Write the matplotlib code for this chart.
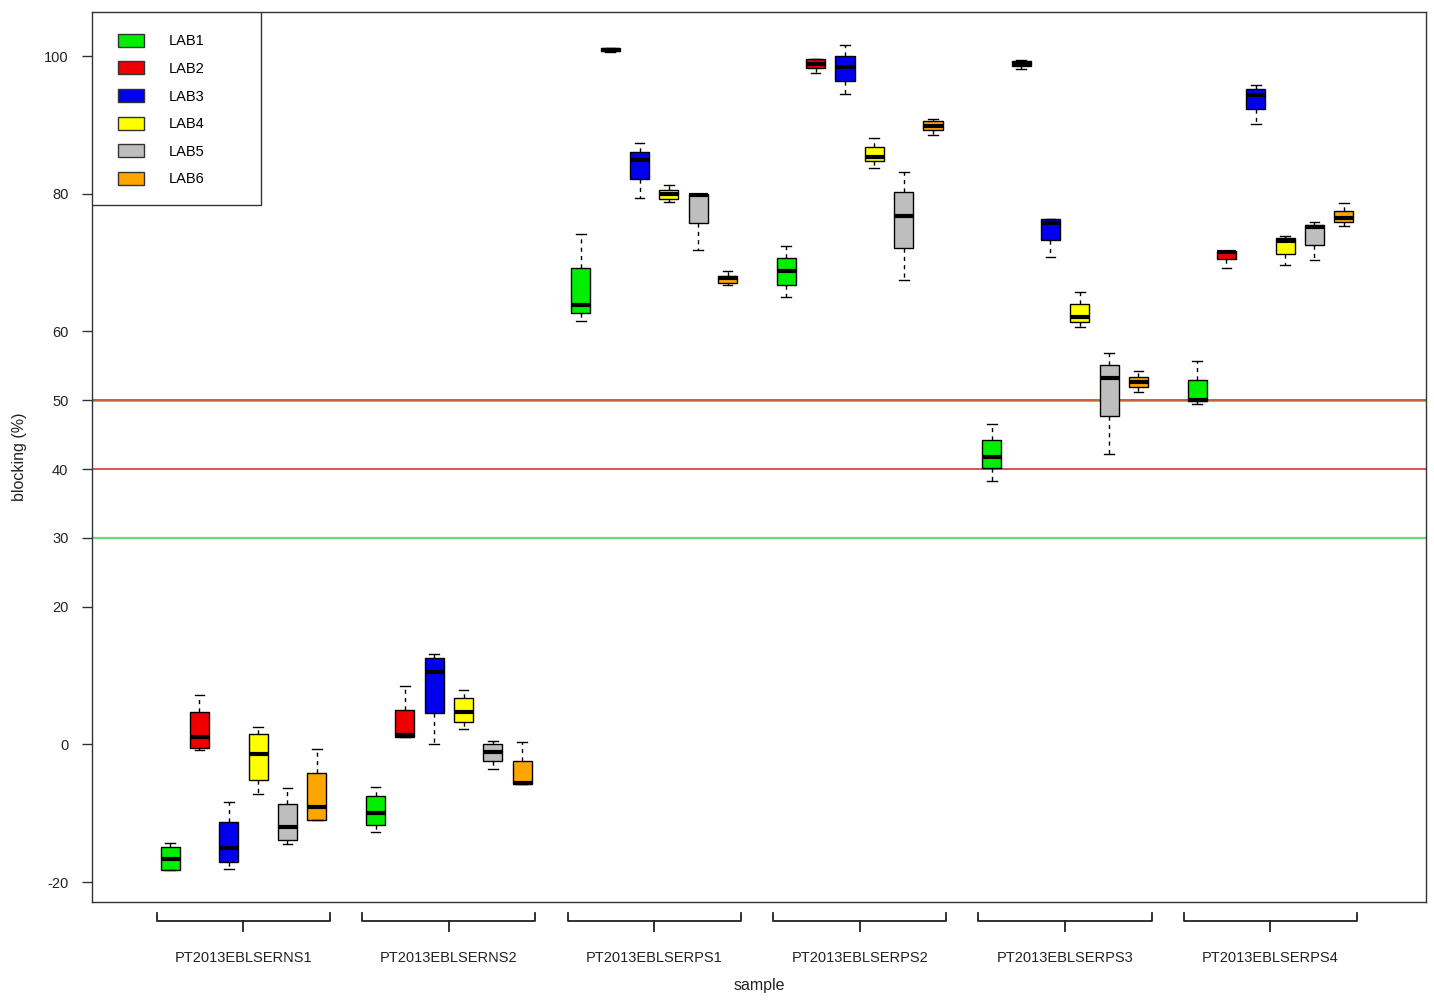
import matplotlib
matplotlib.use("Agg")
import matplotlib.pyplot as plt
import matplotlib.patches as mpatches
import matplotlib.transforms as mtransforms

plt.rcParams['font.family'] = ['Liberation Sans', 'DejaVu Sans']

samples = ["PT2013EBLSERNS1", "PT2013EBLSERNS2", "PT2013EBLSERPS1",
           "PT2013EBLSERPS2", "PT2013EBLSERPS3", "PT2013EBLSERPS4"]
labs = ["LAB1", "LAB2", "LAB3", "LAB4", "LAB5", "LAB6"]
lab_colors = ["#00ee00", "#ee0000", "#0000ee", "#ffff00", "#bebebe", "#ffa500"]

# per lab, per sample: [whisker low, Q1, median, Q3, whisker high]
LAB1 = [[-18.3, -18.2, -16.6, -14.9, -14.3],
        [-12.7, -11.7, -9.9, -7.5, -6.2],
        [61.5, 62.7, 63.8, 69.2, 74.2],
        [65.0, 66.7, 68.8, 70.6, 72.4],
        [38.2, 40.1, 41.8, 44.2, 46.6],
        [49.5, 49.9, 50.0, 52.9, 55.7]]
LAB2 = [[-0.8, -0.5, 1.0, 4.7, 7.2],
        [1.1, 1.1, 1.3, 5.0, 8.5],
        [100.6, 100.7, 100.9, 101.1, 101.2],
        [97.5, 98.3, 98.9, 99.5, 99.5],
        [98.1, 98.6, 98.9, 99.3, 99.4],
        [69.2, 70.5, 71.6, 71.7, 71.7]]
LAB3 = [[-18.1, -17.1, -15.1, -11.3, -8.4],
        [0.1, 4.5, 10.5, 12.6, 13.1],
        [79.4, 82.1, 84.9, 86.1, 87.4],
        [94.5, 96.4, 98.4, 100.0, 101.6],
        [70.8, 73.3, 75.8, 76.3, 76.3],
        [90.1, 92.3, 94.3, 95.2, 95.8]]
LAB4 = [[-7.2, -5.2, -1.4, 1.5, 2.5],
        [2.3, 3.2, 4.7, 6.7, 7.9],
        [78.8, 79.2, 80.0, 80.6, 81.3],
        [83.8, 84.7, 85.4, 86.8, 88.1],
        [60.7, 61.4, 62.1, 64.0, 65.7],
        [69.6, 71.3, 73.2, 73.5, 73.8]]
LAB5 = [[-14.5, -13.9, -12.0, -8.7, -6.4],
        [-3.6, -2.4, -1.1, 0.0, 0.5],
        [71.8, 75.8, 79.8, 80.0, 80.0],
        [67.5, 72.1, 76.8, 80.2, 83.2],
        [42.2, 47.7, 53.2, 55.1, 56.9],
        [70.4, 72.5, 75.1, 75.5, 75.9]]
LAB6 = [[-11.0, -11.0, -9.1, -4.1, -0.7],
        [-5.8, -5.8, -5.6, -2.4, 0.4],
        [66.7, 67.1, 67.7, 68.1, 68.8],
        [88.6, 89.3, 89.8, 90.5, 90.8],
        [51.2, 51.9, 52.7, 53.3, 54.2],
        [75.3, 75.9, 76.5, 77.5, 78.6]]
lab_data = [LAB1, LAB2, LAB3, LAB4, LAB5, LAB6]

yticks = [-20, 0, 20, 30, 40, 50, 60, 80, 100]

fig = plt.figure(figsize=(14.34, 10), dpi=100)
ax = fig.add_axes([0.0642, 0.098, 0.9302, 0.890])

n_lab = len(labs)
group_w = n_lab + 1
for li, (data, col) in enumerate(zip(lab_data, lab_colors)):
    stats = []
    pos = []
    for si, v in enumerate(data):
        stats.append(dict(whislo=v[0], q1=v[1], med=v[2], q3=v[3], whishi=v[4], fliers=[]))
        pos.append(si * group_w + li + 1)
    ax.bxp(stats, positions=pos, widths=0.65, patch_artist=True, manage_ticks=False,
           boxprops=dict(facecolor=col, edgecolor='black', linewidth=1.0),
           medianprops=dict(color='black', linewidth=3.0, solid_capstyle='butt'),
           whiskerprops=dict(color='black', linestyle=(0, (3, 3)), linewidth=1.0),
           capprops=dict(color='black', linewidth=1.0), capwidths=0.33)

# reference lines
ax.axhline(30, color='#66e066', lw=1.6, zorder=0.5)
ax.axhline(40, color='#e0505a', lw=1.4, zorder=0.5)
off_g = mtransforms.offset_copy(ax.transData, fig=fig, x=0, y=-0.7, units='dots')
off_r = mtransforms.offset_copy(ax.transData, fig=fig, x=0, y=0.7, units='dots')
ax.plot([-5, 50], [50, 50], color='#66d066', lw=1.4, transform=off_g, zorder=0.5)
ax.plot([-5, 50], [50, 50], color='#c8603a', lw=1.4, transform=off_r, zorder=0.6)

ax.set_xlim(-1.66, 43.8)
ax.set_ylim(-22.9, 106.4)
ax.set_yticks(yticks)
ax.set_yticklabels([str(t) for t in yticks], fontsize=10.5, color='#222222')
ax.tick_params(axis='y', length=7, width=1, colors='#333333', labelcolor='#222222', pad=10)
ax.set_xticks([])
for s in ax.spines.values():
    s.set_color('#333333')
    s.set_linewidth(1.0)

ax.set_ylabel("blocking (%)", fontsize=11.5, color='#222222', labelpad=12)
ax.set_xlabel("sample", fontsize=11.5, color='#222222', labelpad=55)

# group brackets below axis
trans = mtransforms.blended_transform_factory(ax.transData, ax.transAxes)
for si, name in enumerate(samples):
    x0 = si * group_w + 1 - 0.45
    x1 = si * group_w + n_lab + 0.45
    xc = si * group_w + (n_lab + 1) / 2
    ax.plot([x0, x0, x1, x1], [-0.0124, -0.0213, -0.0213, -0.0124], color='#222222',
            lw=1.3, transform=trans, clip_on=False)
    ax.plot([xc, xc], [-0.0213, -0.0326], color='#222222', lw=1.3, transform=trans, clip_on=False)
    ax.text(xc, -0.063, name, transform=trans, ha='center', va='center', fontsize=10.5,
            color='#222222')

# legend: frame drawn as rectangle, entries via legend without frame
frame = mpatches.Rectangle((0, 0.783), 0.1267, 0.217, transform=ax.transAxes,
                           facecolor='white', edgecolor='#333333', linewidth=1.0, zorder=4)
ax.add_patch(frame)
handles = [mpatches.Patch(facecolor=c, edgecolor='#333333', linewidth=1.0) for c in lab_colors]
leg = ax.legend(handles, labs, loc='upper left', bbox_to_anchor=(0.0085, 0.992),
                fontsize=10.5, frameon=False, borderpad=1.0,
                labelspacing=0.9, handlelength=1.75, handleheight=1.0, handletextpad=1.75,
                borderaxespad=0)
leg.set_zorder(5)

fig.savefig("out.png", dpi=100, facecolor='white')
